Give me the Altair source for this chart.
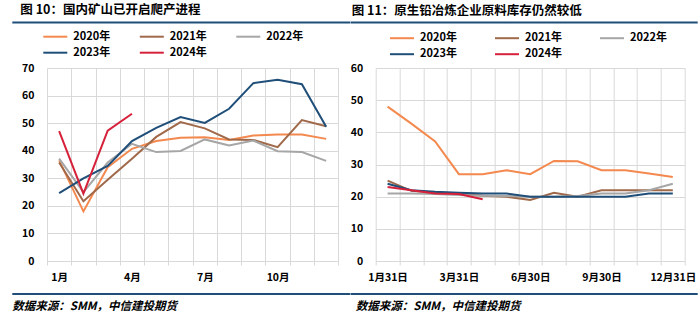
import json
import altair as alt
import pandas as pd

FONT = "Noto Sans CJK SC"
NAVY = "#1F4E79"
GRID = "#D9D9D9"

SERIES = ["2020年", "2021年", "2022年", "2023年", "2024年"]
COLORS = ["#F4894F", "#A0694A", "#A6A6A6", "#1F4E79", "#D6213B"]

# ---- left chart: 国内矿山开工率 ----
L_TITLE = "图 10：国内矿山已开启爬产进程"
L_CATS = ["1月", "2月", "3月", "4月", "5月", "6月", "7月", "8月", "9月", "10月", "11月", "12月"]
L_TICKS = ["1月", "4月", "7月", "10月"]
L_2020 = [36.5, 18.0, 34.0, 40.7, 43.5, 44.7, 44.9, 43.9, 45.5, 45.9, 45.9, 44.3]
L_2021 = [35.7, 21.7, 29.5, 37.1, 45.0, 50.4, 48.1, 44.1, 43.9, 41.3, 51.1, 48.9]
L_2022 = [37.1, 25.0, 35.7, 42.5, 39.5, 39.9, 44.1, 41.9, 43.7, 39.8, 39.5, 36.3]
L_2023 = [24.6, 30.0, 34.5, 43.5, 48.3, 52.2, 50.1, 55.2, 64.5, 65.7, 64.1, 48.7]
L_2024 = [47.1, 24.4, 47.3, 53.4]
L_YMAX = 70

# ---- right chart: 原料库存 ----
R_TITLE = "图 11：原生铅冶炼企业原料库存仍然较低"
R_CATS = ["1月31日", "2月15日", "2月28日", "3月31日", "4月30日", "5月31日", "6月30日",
          "7月31日", "8月31日", "9月30日", "10月31日", "11月30日", "12月31日"]
R_TICKS = ["1月31日", "3月31日", "6月30日", "9月30日", "12月31日"]
R_2020 = [48.0, 42.7, 37.2, 27.0, 27.0, 28.2, 27.0, 31.1, 31.0, 28.2, 28.2, 27.2, 26.1]
R_2021 = [25.0, 21.8, 21.2, 20.8, 20.3, 20.0, 19.0, 21.2, 20.0, 22.0, 22.0, 22.0, 22.0]
R_2022 = [21.0, 21.0, 20.8, 20.5, 20.3, 20.2, 20.0, 20.0, 20.2, 21.0, 21.0, 22.0, 24.0]
R_2023 = [24.0, 22.0, 21.5, 21.2, 21.0, 21.0, 20.0, 20.0, 20.0, 20.0, 20.0, 21.0, 21.0]
R_2024 = [23.0, 22.0, 21.0, 20.8, 19.2]
R_YMAX = 60

SOURCE = "数据来源：SMM，中信建投期货"

ONE = alt.Data(values=[{"k": 1}])


def long_df(cats, cols):
    rows = []
    for s, vals in zip(SERIES, cols):
        for i, (c, v) in enumerate(zip(cats, vals)):
            rows.append({"cat": c, "series": s, "v": v, "i": i})
    return pd.DataFrame(rows)


def rule(x1, x2, y, color=NAVY, sw=2):
    return alt.Chart(ONE).mark_rule(color=color, strokeWidth=sw).encode(
        x=alt.value(x1), x2=alt.value(x2), y=alt.value(y))


def text(x, y, s, size, italic=False):
    kw = dict(align="left", baseline="middle", font=FONT, fontSize=size,
              fontWeight="bold", color="#000000")
    if italic:
        kw["fontStyle"] = "italic"
    return alt.Chart(ONE).mark_text(**kw).encode(
        x=alt.value(x), y=alt.value(y), text=alt.value(s))


def panel(df, cats, ticks, ymax, w, h, title, title_x, title_y, rule_x1, rule_x2,
          leg_cols, leg_rows, src_x):
    label_expr = ("indexof(" + json.dumps(ticks, ensure_ascii=False)
                  + ", datum.value) >= 0 ? datum.value : ''")
    lines = alt.Chart(df).mark_line(strokeWidth=2).encode(
        x=alt.X("cat:N", sort=cats,
                scale=alt.Scale(type="band", domain=cats, paddingInner=0, paddingOuter=0),
                axis=alt.Axis(title=None, labelExpr=label_expr, tickBand="extent",
                              grid=True, gridColor=GRID, domainColor=GRID,
                              tickColor=GRID, tickSize=4, labelPadding=7, labelAngle=0,
                              labelFont=FONT, labelFontSize=10.5, labelFontWeight="bold",
                              labelColor="#000000")),
        y=alt.Y("v:Q", scale=alt.Scale(domain=[0, ymax], nice=False),
                axis=alt.Axis(title=None, values=list(range(0, ymax + 1, 10)),
                              grid=True, gridColor=GRID, domain=False, ticks=False,
                              labelPadding=13, labelFont=FONT, labelFontSize=10.5,
                              labelFontWeight="bold", labelColor="#000000")),
        color=alt.Color("series:N", scale=alt.Scale(domain=SERIES, range=COLORS),
                        legend=None),
        order=alt.Order("i:Q"),
    )
    layers = [lines,
              text(title_x, title_y, title, 12.5),
              rule(rule_x1, rule_x2, -45.6),
              rule(rule_x1, rule_x2, 226),
              text(src_x, 238.7, SOURCE, 11.5, italic=True)]
    for k, (s, c) in enumerate(zip(SERIES, COLORS)):
        lx = leg_cols[k % 3]
        ly = leg_rows[k // 3]
        layers.append(rule(lx, lx + 24, ly, color=c, sw=2))
        layers.append(text(lx + 30, ly, s, 11))
    return alt.layer(*layers).properties(width=w, height=h)


left = panel(long_df(L_CATS, [L_2020, L_2021, L_2022, L_2023, L_2024]),
             L_CATS, L_TICKS, L_YMAX, 291.3, 193, L_TITLE,
             -26.7, -58.0, -34.7, 303.3,
             [-3.7, 92.8, 189.3], [-31.3, -15.3], -34.7)

right = panel(long_df(R_CATS, [R_2020, R_2021, R_2022, R_2023, R_2024]),
              R_CATS, R_TICKS, R_YMAX, 309, 193, R_TITLE,
              -24, -57.3, -25, 322,
              [14.3, 119.3, 224.3], [-29.8, -13.8], -20)

chart = alt.hconcat(left, right, spacing=36.7, bounds="flush").properties(
    padding={"left": 11, "top": 4, "right": 0, "bottom": 0}
).configure_view(stroke=None)

chart.save("out.html", embed_options={"renderer": "svg", "actions": False})
